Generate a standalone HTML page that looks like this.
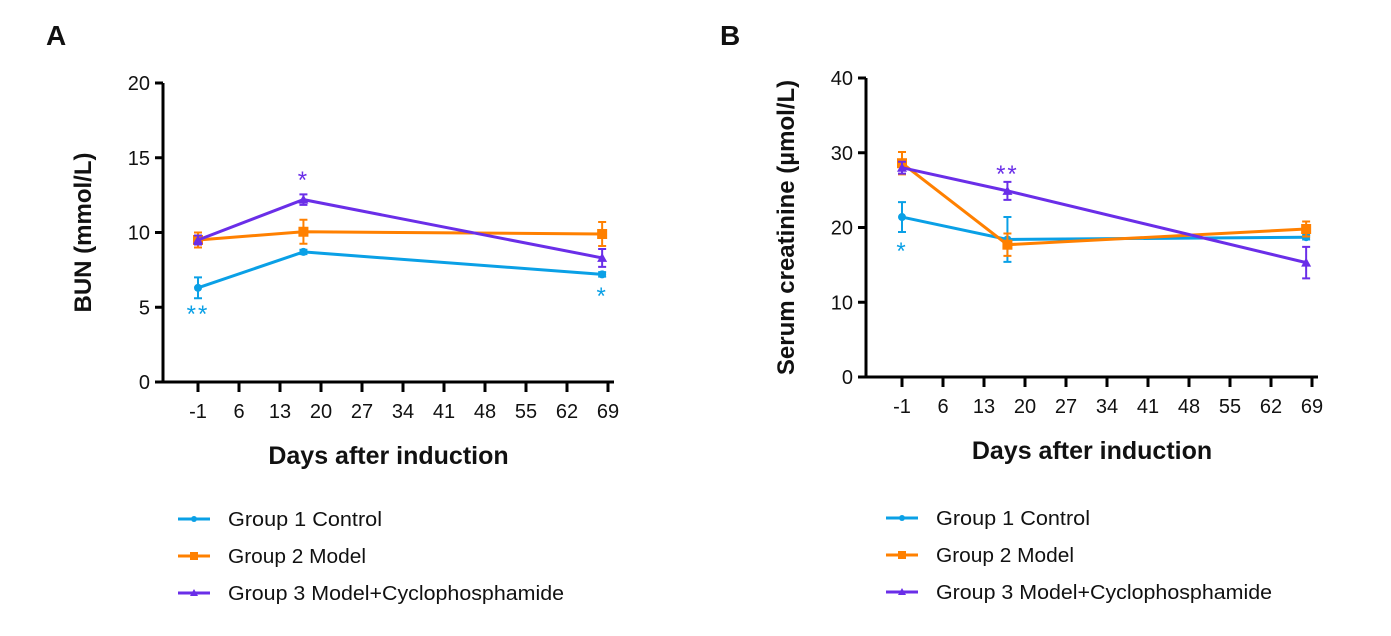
<!DOCTYPE html>
<html><head><meta charset="utf-8"><style>
body{margin:0;background:#fff;width:1391px;height:631px;overflow:hidden;font-family:"Liberation Sans",sans-serif}
svg text{font-family:"Liberation Sans",sans-serif;fill:#111}
</style></head><body>
<svg id="svg" width="1391" height="631"></svg>
<script>
const days=[-1,17,68];
const tickLabels=["-1","6","13","20","27","34","41","48","55","62","69"];
const seriesNames=["Group 1 Control","Group 2 Model","Group 3 Model+Cyclophosphamide"];
const colors=["#0aa0e6","#ff8000","#6a2ee8"];
const bunControl=[6.3,8.7,7.2];const bunControlErr=[0.7,0.15,0.15];
const bunModel=[9.5,10.05,9.9];const bunModelErr=[0.5,0.8,0.8];
const bunCyclo=[9.5,12.2,8.3];const bunCycloErr=[0.3,0.35,0.6];
const crControl=[21.4,18.4,18.7];const crControlErr=[2.0,3.0,0.3];
const crModel=[28.6,17.7,19.8];const crModelErr=[1.5,1.5,1.0];
const crCyclo=[28.0,24.9,15.3];const crCycloErr=[0.8,1.2,2.1];
const bunTicks=[0,5,10,15,20];const crTicks=[0,10,20,30,40];
const legendTextWidths=[154,138,336];
const NS="http://www.w3.org/2000/svg";const svg=document.getElementById('svg');
function mk(t,a,p){const e=document.createElementNS(NS,t);for(const k in a)e.setAttribute(k,a[k]);(p||svg).appendChild(e);return e;}
function panel(cfg){
 const g=mk('g',{});
 
 
 const X=d=>cfg.x0+(d+1)*41/7;
 const Y=v=>cfg.y0-(v/cfg.ymax)*(cfg.y0-cfg.y1);
 const ax=mk('path',{d:`M${cfg.ax} ${cfg.y1}V${cfg.y0}H${cfg.axEnd}`,stroke:'#000','stroke-width':3,fill:'none'},g);
 
 
 cfg.yt.forEach(v=>{mk('line',{x1:cfg.ax-8,x2:cfg.ax,y1:Y(v),y2:Y(v),stroke:'#000','stroke-width':3},g);
  const t=mk('text',{x:cfg.ax-13,y:Y(v)+7,'text-anchor':'end','font-size':20},g);t.textContent=v;
  
  });
 tickLabels.forEach((l,i)=>{const x=X(Number(l));mk('line',{x1:x,x2:x,y1:cfg.y0,y2:cfg.y0+10,stroke:'#000','stroke-width':3},g);
  const t=mk('text',{x:x,y:cfg.y0+36,'text-anchor':'middle','font-size':20},g);t.textContent=l;
  
  });
 const xt=mk('text',{x:(cfg.ax+cfg.axEnd)/2,y:cfg.y0+82,'text-anchor':'middle','font-size':25,'font-weight':'bold'},g);xt.textContent='Days after induction';
 
 
 const yt=mk('text',{transform:`translate(${cfg.ax-72},${(cfg.y0+cfg.y1)/2}) rotate(-90)`,'text-anchor':'middle','font-size':24,'font-weight':'bold'},g);yt.textContent=cfg.ytitle;
 
 
 const pl=mk('text',{x:cfg.lx,y:45,'font-size':28,'font-weight':'bold'},g);pl.textContent=cfg.label;
 
 
 cfg.series.forEach((s,si)=>{const c=colors[si];
  const line=mk('polyline',{points:s.v.map((v,i)=>X(days[i])+','+Y(v)).join(' '),stroke:c,'stroke-width':3,fill:'none'},g);
  
  
  s.v.forEach((v,i)=>{const x=X(days[i]);
   const eb=mk('path',{d:`M${x-4} ${Y(v+s.e[i])}H${x+4}M${x} ${Y(v+s.e[i])}V${Y(v-s.e[i])}M${x-4} ${Y(v-s.e[i])}H${x+4}`,stroke:c,'stroke-width':2,fill:'none'},g);
   
   
   let m;if(si==0)m=mk('circle',{cx:x,cy:Y(v),r:4,fill:c},g);
   else if(si==1)m=mk('rect',{x:x-5,y:Y(v)-5,width:10,height:10,fill:c},g);
   else m=mk('path',{d:`M${x} ${Y(v)-5}L${x+5} ${Y(v)+4}L${x-5} ${Y(v)+4}Z`,fill:c},g);
   
   });});
 cfg.stars.forEach(s=>{const t=mk('text',{x:X(s[0]),y:s[1],'text-anchor':'middle','font-size':24,'letter-spacing':2,fill:colors[s[2]],style:'fill:'+colors[s[2]]},g);t.textContent=s[3];
  
  });
 seriesNames.forEach((n,i)=>{const y=cfg.legY+i*37;
  const le=mk('g',{},g);
  
  
  mk('line',{x1:cfg.legX,x2:cfg.legX+32,y1:y,y2:y,stroke:colors[i],'stroke-width':3},le);
  if(i==0)mk('circle',{cx:cfg.legX+16,cy:y,r:3,fill:colors[i]},le);
  else if(i==1)mk('rect',{x:cfg.legX+12,y:y-4,width:8,height:8,fill:colors[i]},le);
  else mk('path',{d:`M${cfg.legX+16} ${y-4}L${cfg.legX+20} ${y+3}L${cfg.legX+12} ${y+3}Z`,fill:colors[i]},le);
  const t=mk('text',{x:cfg.legX+50,y:y+7,'font-size':20,'textLength':legendTextWidths[i],'lengthAdjust':'spacingAndGlyphs'},le);t.textContent=n;});
}
panel({name:'bun-chart',label:'A',lx:46,ax:163,axEnd:614,x0:198,y0:382,y1:83,ymax:20,yt:bunTicks,ytitle:'BUN (mmol/L)',
 series:[{v:bunControl,e:bunControlErr},{v:bunModel,e:bunModelErr},{v:bunCyclo,e:bunCycloErr}],
 stars:[[-1,322,0,'**'],[17,188,2,'*'],[68,304,0,'*']],legX:178,legY:519});
panel({name:'creatinine-chart',label:'B',lx:720,ax:866,axEnd:1318,x0:902,y0:377,y1:78,ymax:40,yt:crTicks,ytitle:'Serum creatinine (µmol/L)',
 series:[{v:crControl,e:crControlErr},{v:crModel,e:crModelErr},{v:crCyclo,e:crCycloErr}],
 stars:[[-1,259,0,'*'],[17,182,2,'**']],legX:886,legY:518});
</script>
</body></html>
